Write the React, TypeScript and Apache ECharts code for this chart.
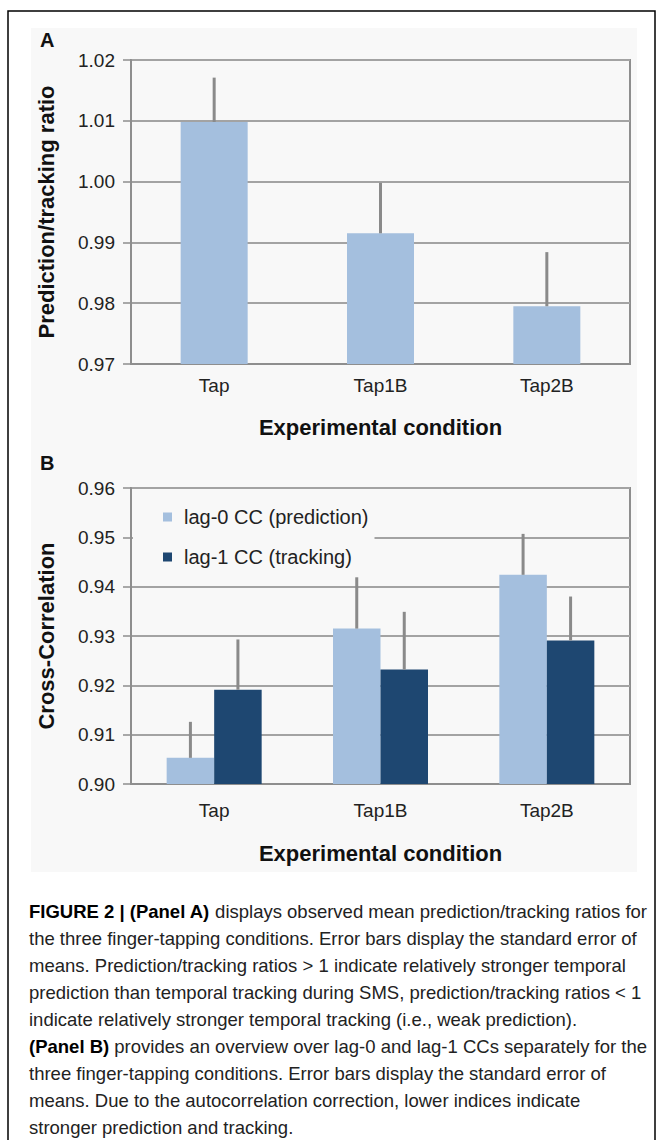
import React, { useEffect, useRef } from "react";
import * as echarts from "echarts";

const categories = ["Tap", "Tap1B", "Tap2B"];

// Panel A: prediction/tracking ratio (mean, upper end of SE bar)
const ratioValues = [1.0098, 0.9915, 0.9795];
const ratioErrTop = [1.0171, 0.9998, 0.9884];

// Panel B: cross-correlations
const lag0Values = [0.9053, 0.9315, 0.9424];
const lag0ErrTop = [0.9126, 0.9419, 0.9507];
const lag1Values = [0.9191, 0.9232, 0.9291];
const lag1ErrTop = [0.9293, 0.9349, 0.938];

const seriesNames = ["lag-0 CC (prediction)", "lag-1 CC (tracking)"];

const captionLines = [
  "{b|FIGURE 2 | (Panel A)} displays observed mean prediction/tracking ratios for",
  "the three finger-tapping conditions. Error bars display the standard error of",
  "means. Prediction/tracking ratios > 1 indicate relatively stronger temporal",
  "prediction than temporal tracking during SMS, prediction/tracking ratios < 1",
  "indicate relatively stronger temporal tracking (i.e., weak prediction).",
  "{b|(Panel B)} provides an overview over lag-0 and lag-1 CCs separately for the",
  "three finger-tapping conditions. Error bars display the standard error of",
  "means. Due to the autocorrelation correction, lower indices indicate",
  "stronger prediction and tracking.",
];

const FONT = "'Liberation Sans', Arial, Helvetica, sans-serif";
const LIGHT = "#a4bfde";
const DARK = "#1e4771";
const ERR = "#8a8a8a";
const GRID = "#a3a3a3";
const AXIS = "#8e8e8e";
const BG = "#f8f8f8";

function errorSeries(
  name: string,
  xi: number,
  values: number[],
  tops: number[],
  offset: number
) {
  return {
    type: "custom",
    name,
    xAxisIndex: xi,
    yAxisIndex: xi,
    z: 5,
    encode: { x: 0, y: [1, 2] },
    data: values.map((v, i) => [i, v, tops[i]]),
    renderItem: (params: any, api: any) => {
      const cat = api.value(0);
      const base = api.coord([cat, api.value(1)]);
      const top = api.coord([cat, api.value(2)]);
      return {
        type: "line",
        shape: { x1: base[0] + offset, y1: base[1], x2: top[0] + offset, y2: top[1] },
        style: { stroke: ERR, lineWidth: 3 },
      };
    },
  };
}

function yAxisCfg(gi: number, min: number, max: number, name: string) {
  return {
    type: "value",
    gridIndex: gi,
    min,
    max,
    interval: 0.01,
    name,
    nameLocation: "middle",
    nameRotate: 90,
    nameGap: 74,
    nameTextStyle: { fontSize: 22, fontWeight: "bold", color: "#111", fontFamily: FONT },
    axisLine: { show: true, lineStyle: { color: AXIS, width: 2 } },
    axisTick: { show: true, length: 8, lineStyle: { color: AXIS, width: 1.5 } },
    axisLabel: {
      fontSize: 19,
      color: "#222",
      margin: 16,
      fontFamily: FONT,
      formatter: (v: number) => v.toFixed(2),
    },
    splitLine: { show: true, lineStyle: { color: GRID, width: 2 } },
  };
}

function xAxisCfg(gi: number, labelMargin: number, nameGap: number) {
  return {
    type: "category",
    gridIndex: gi,
    data: categories,
    name: "Experimental condition",
    nameLocation: "middle",
    nameGap,
    nameTextStyle: { fontSize: 22, fontWeight: "bold", color: "#111", fontFamily: FONT },
    axisLine: { show: true, lineStyle: { color: AXIS, width: 2 } },
    axisTick: { show: false },
    axisLabel: { fontSize: 19, color: "#222", margin: labelMargin, fontFamily: FONT },
    splitLine: { show: false },
  };
}

export default function App() {
  const ref = useRef<HTMLDivElement>(null);

  useEffect(() => {
    if (!ref.current) return;
    const chart = echarts.init(ref.current, null, { renderer: "svg" });
    const bwA = 67;
    const bwB = 47.5;
    const option: any = {
      animation: false,
      backgroundColor: "#ffffff",
      textStyle: { fontFamily: FONT },
      grid: [
        { left: 131, top: 60, width: 499, height: 304, show: true, borderColor: AXIS, borderWidth: 2, backgroundColor: "transparent" },
        { left: 131, top: 488, width: 499, height: 296, show: true, borderColor: AXIS, borderWidth: 2, backgroundColor: "transparent" },
      ],
      xAxis: [xAxisCfg(0, 12, 52), xAxisCfg(1, 17, 58)],
      yAxis: [
        yAxisCfg(0, 0.97, 1.02, "Prediction/tracking ratio"),
        yAxisCfg(1, 0.9, 0.96, "Cross-Correlation"),
      ],
      legend: {
        data: seriesNames,
        orient: "vertical",
        left: 133,
        top: 499,
        padding: [8, 6, 8, 30],
        itemWidth: 9,
        itemHeight: 9,
        itemGap: 20,
        icon: "rect",
        backgroundColor: BG,
        selectedMode: false,
        textStyle: { fontSize: 20, color: "#222", fontFamily: FONT, lineHeight: 20, padding: [0, 0, 0, 7] },
      },
      series: [
        {
          type: "bar",
          name: "ratio",
          xAxisIndex: 0,
          yAxisIndex: 0,
          data: ratioValues,
          barWidth: bwA,
          itemStyle: { color: LIGHT },
          z: 2,
        },
        errorSeries("ratio-err", 0, ratioValues, ratioErrTop, 0),
        {
          type: "bar",
          name: seriesNames[0],
          xAxisIndex: 1,
          yAxisIndex: 1,
          data: lag0Values,
          barWidth: bwB,
          barGap: "0%",
          itemStyle: { color: LIGHT },
          z: 2,
        },
        {
          type: "bar",
          name: seriesNames[1],
          xAxisIndex: 1,
          yAxisIndex: 1,
          data: lag1Values,
          barWidth: bwB,
          barGap: "0%",
          itemStyle: { color: DARK },
          z: 2,
        },
        errorSeries("lag0-err", 1, lag0Values, lag0ErrTop, -bwB / 2),
        errorSeries("lag1-err", 1, lag1Values, lag1ErrTop, bwB / 2),
      ],
      graphic: [
        {
          type: "rect",
          z: -20,
          silent: true,
          shape: { x: 8, y: 11, width: 647, height: 1200 },
          style: { fill: "#ffffff", stroke: "#000000", lineWidth: 1.5 },
        },
        {
          type: "rect",
          z: -10,
          silent: true,
          shape: { x: 31, y: 28, width: 606, height: 844 },
          style: { fill: BG },
        },
        {
          type: "text",
          x: 40,
          y: 40,
          style: { text: "A", font: `bold 20px ${FONT}`, fill: "#111", verticalAlign: "middle" },
        },
        {
          type: "text",
          x: 40,
          y: 463,
          style: { text: "B", font: `bold 20px ${FONT}`, fill: "#111", verticalAlign: "middle" },
        },
        ...captionLines.map((line, i) => ({
          type: "text",
          x: 29,
          y: 911 + i * 27,
          style: {
            text: line,
            font: `18.5px ${FONT}`,
            fill: "#222",
            verticalAlign: "middle",
            rich: { b: { fontWeight: "bold", fontSize: 18.5, fontFamily: FONT, fill: "#000" } },
          },
        })),
      ],
    };
    chart.setOption(option);
    return () => chart.dispose();
  }, []);

  return (
    <div
      ref={ref}
      style={{ position: "absolute", left: 0, top: 0, width: 662, height: 1140 }}
    />
  );
}
